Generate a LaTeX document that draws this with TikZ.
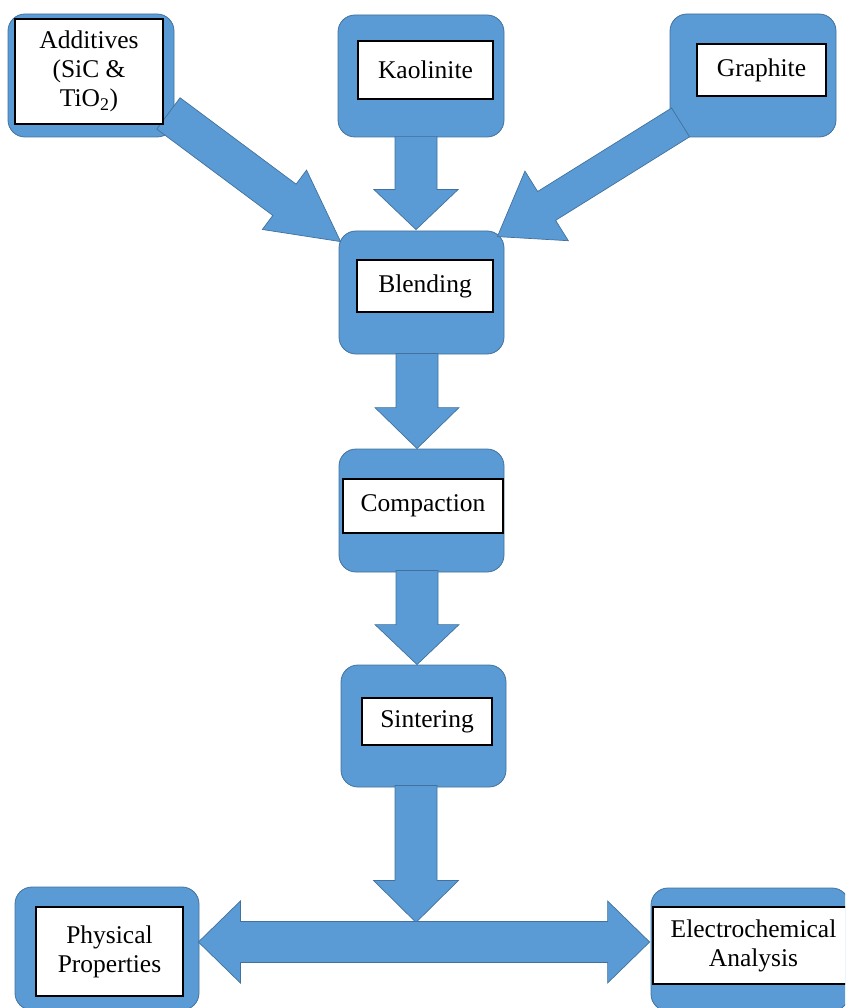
\documentclass[tikz,border=0pt]{standalone}
\usepackage{fontspec}
\setmainfont{Liberation Serif}
\usetikzlibrary{calc}
\definecolor{boxblue}{HTML}{5B9BD5}
\definecolor{edgeblue}{HTML}{41719C}
\tikzset{
  outerbox/.style={draw=edgeblue, line width=0.8pt, fill=boxblue, rounded corners=17pt, inner sep=0pt},
  innerbox/.style={draw=black, line width=1.3pt, fill=white, inner sep=0pt, align=center,
                   font=\fontsize{25.5}{29}\selectfont},
  flowarrow/.style={draw=edgeblue, line width=0.7pt, fill=boxblue, line join=miter}
}
% #1 start, #2 tip, #3 half shaft width, #4 half head width, #5 head length
\newcommand\blkarrow[5]{%
  \coordinate (bah) at ($(#2)!#5!(#1)$);
  \filldraw[flowarrow] ($(#1)!#3!90:(#2)$) -- ($(bah)!#3!90:(#2)$) -- ($(bah)!#4!90:(#2)$)
     -- (#2) -- ($(bah)!#4!-90:(#2)$) -- ($(bah)!#3!-90:(#2)$) -- ($(#1)!#3!-90:(#2)$) -- cycle;
}
\begin{document}
\begin{tikzpicture}[x=1pt,y=-1pt]
\useasboundingbox (0,0) rectangle (845,1008);
\clip (0,0) rectangle (845,1008);
% outer boxes
\node[outerbox, minimum width=166pt, minimum height=123pt] (add)   at (91,75.5) {};
\node[outerbox, minimum width=166pt, minimum height=122pt] (kao)   at (421,76) {};
\node[outerbox, minimum width=166pt, minimum height=123pt] (graph) at (753,75.5) {};
\node[outerbox, minimum width=165pt, minimum height=123pt] (blend) at (421.5,292.5) {};
\node[outerbox, minimum width=165pt, minimum height=123pt] (comp)  at (421.5,510.5) {};
\node[outerbox, minimum width=165pt, minimum height=122pt] (sint)  at (423.5,726) {};
\node[outerbox, minimum width=184pt, minimum height=123pt] (phys)  at (107,948.5) {};
\node[outerbox, minimum width=198pt, minimum height=123pt] (elec)  at (750,949.5) {};
% connector end points
\coordinate (addS)  at ($(add.south east)+(-6,-24)$);
\coordinate (addT)  at ($(blend.north west)+(2,11)$);
\coordinate (grS)   at ($(graph.south west)+(11,-15)$);
\coordinate (grT)   at ($(blend.north east)+(-7,6)$);
\coordinate (junc)  at ($(sint.south)+(-7.5,135)$);
\coordinate (dblL)  at ($(phys.east)+(-1,-6.5)$);
\coordinate (dblR)  at ($(elec.west)+(-1,-7.5)$);
% arrows
\blkarrow{addS}{addT}{19.5pt}{37pt}{70pt}
\blkarrow{grS}{grT}{17pt}{41pt}{58pt}
\blkarrow{$(kao.south)+(-5,-1)$}{$(blend.north)+(-5.5,-1)$}{21pt}{42pt}{40pt}
\blkarrow{$(blend.south)+(-4.5,-1)$}{$(comp.north)+(-4.5,0)$}{21pt}{42pt}{41pt}
\blkarrow{$(comp.south)+(-4.5,-2)$}{$(sint.north)+(-6.5,0)$}{21pt}{42pt}{40pt}
\blkarrow{$(sint.south)+(-7.5,-2)$}{junc}{21pt}{42.5pt}{42pt}
\filldraw[flowarrow] (dblL) -- ($(dblL)+(42,-41)$) -- ($(dblL)+(42,-20.5)$) -- ($(dblR)+(-42,-20.5)$)
   -- ($(dblR)+(-42,-41)$) -- (dblR) -- ($(dblR)+(-42,41)$) -- ($(dblR)+(-42,20.5)$)
   -- ($(dblL)+(42,20.5)$) -- ($(dblL)+(42,41)$) -- cycle;
% inner boxes
\node[innerbox, minimum width=148pt, minimum height=105pt] (addI) at (89,71.5) {Additives\\(SiC \&\\TiO\textsubscript{2})};
\node[innerbox, minimum width=135pt, minimum height=58pt] (kaoI) at (425.5,70) {Kaolinite};
\node[innerbox, minimum width=129pt, minimum height=52pt] (graphI) at (761.5,70) {Graphite};
\node[innerbox, minimum width=136pt, minimum height=52pt] (blendI) at (425,286) {Blending};
\node[innerbox, minimum width=160pt, minimum height=54pt] (compI) at (423,506) {Compaction};
\node[innerbox, minimum width=130pt, minimum height=47pt] (sintI) at (427,721.5) {Sintering};
\node[innerbox, minimum width=147pt, minimum height=89pt] (physI) at (109.5,951.5) {Physical\\Properties};
\node[innerbox, minimum width=201pt, minimum height=77pt] (elecI) at (753.5,945.5) {Electrochemical\\Analysis};
\end{tikzpicture}
\end{document}
